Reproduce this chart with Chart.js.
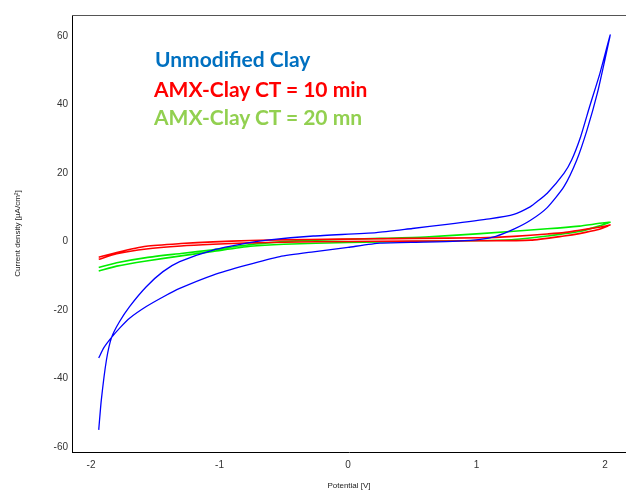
<!DOCTYPE html>
<html>
<head>
<meta charset="utf-8">
<script src="https://cdn.jsdelivr.net/npm/chart.js@4/dist/chart.umd.min.js"></script>
<style>
  html, body { margin: 0; padding: 0; background: #fff; }
  #wrap { position: relative; width: 626px; height: 492px; overflow: hidden; }
  canvas { position: absolute; left: 0; top: 0; }
  .note { position: absolute; font-family: Lato, "Open Sans", sans-serif; font-weight: bold;
          font-size: 21px; line-height: 21px; white-space: nowrap; }
</style>
</head>
<body>
<div id="wrap">
  <canvas id="c" width="626" height="492"></canvas>
  <div class="note" id="n0" style="left:155px; top:48px; color:#0070C0;"></div>
  <div class="note" id="n1" style="left:154px; top:78px; color:#FF0000;"></div>
  <div class="note" id="n2" style="left:154px; top:106px; color:#92D050;"></div>
</div>
<script>
// ---- data ----
const seriesNames = ["Unmodified Clay", "AMX-Clay CT = 10 min", "AMX-Clay CT = 20 mn"];
const xTicks = [-2, -1, 0, 1, 2];
const yTicks = [-60, -40, -20, 0, 20, 40, 60];

// Unmodified clay: lower branch left -> right, then upper branch right -> left
const blueX = [-1.94, -1.90, -1.84, -1.77, -1.70, -1.57, -1.44, -1.31, -1.05, -0.79, -0.53, -0.27, 0.00, 0.25, 0.59, 0.85, 1.03, 1.15, 1.29, 1.42, 1.55, 1.68, 1.78, 1.86, 1.94, 2.01, 2.04,
               1.96, 1.88, 1.81, 1.74, 1.68, 1.55, 1.47, 1.42, 1.29, 1.10, 0.77, 0.50, 0.22, -0.27, -0.63, -0.79, -1.05, -1.31, -1.44, -1.57, -1.70, -1.78, -1.84, -1.88, -1.92, -1.94];
const blueY = [-34.0, -31.0, -28.0, -25.0, -22.4, -19.0, -16.2, -13.7, -9.8, -6.9, -4.4, -3.0, -1.7, -0.5, -0.2, 0.1, 0.6, 1.5, 3.6, 6.2, 9.9, 16.0, 23.8, 32.6, 43.3, 55.0, 60.3,
               49.1, 39.4, 30.6, 23.8, 19.9, 14.1, 11.6, 10.2, 7.9, 6.6, 5.0, 3.8, 2.6, 1.6, 0.4, -0.5, -2.5, -5.9, -8.8, -13.2, -19.0, -23.5, -28.0, -34.6, -46.3, -55.0];

// AMX-Clay CT = 10 min
const redX = [-1.94, -1.80, -1.57, -1.30, -1.05, -0.76, -0.30, 0.20, 0.50, 1.03, 1.29, 1.55, 1.68, 1.80, 1.94, 2.04,
              1.94, 1.80, 1.68, 1.42, 1.03, 0.50, 0.00, -0.50, -0.76, -1.05, -1.30, -1.57, -1.80, -1.94];
const redY = [-4.6, -3.2, -1.4, -0.6, -0.1, 0.3, 0.6, 0.8, 0.9, 1.1, 1.5, 2.2, 2.6, 3.3, 4.1, 4.8,
              3.4, 2.3, 1.6, 0.4, 0.2, 0.1, 0.0, -0.2, -0.4, -0.8, -1.3, -2.2, -3.6, -5.2];

// AMX-Clay CT = 20 mn
const greenX = [-1.94, -1.80, -1.57, -1.30, -1.05, -0.76, -0.53, -0.24, 0.25, 0.60, 1.03, 1.55, 1.80, 2.04,
                1.80, 1.55, 1.29, 1.03, 0.50, 0.00, -0.50, -0.76, -1.05, -1.30, -1.57, -1.80, -1.94];
const greenY = [-7.6, -6.2, -4.7, -3.5, -2.4, -0.9, -0.1, 0.4, 0.9, 1.3, 2.3, 3.7, 4.5, 5.6,
                2.9, 1.6, 0.6, 0.3, 0.0, -0.3, -0.8, -1.4, -2.9, -4.2, -5.7, -7.2, -8.6];

const toPts = (xs, ys) => xs.map((x, i) => ({ x: x, y: ys[i] }));

document.getElementById('n0').textContent = seriesNames[0];
document.getElementById('n1').textContent = seriesNames[1];
document.getElementById('n2').textContent = seriesNames[2];

const topBorder = {
  id: 'topBorder',
  afterDraw(chart) {
    const a = chart.chartArea, ctx = chart.ctx;
    ctx.save();
    ctx.strokeStyle = '#555';
    ctx.lineWidth = 1;
    ctx.beginPath();
    ctx.moveTo(a.left, a.top + 0.5);
    ctx.lineTo(a.right, a.top + 0.5);
    ctx.stroke();
    ctx.restore();
  }
};

new Chart(document.getElementById('c'), {
  type: 'scatter',
  data: {
    datasets: [
      { label: seriesNames[0], data: toPts(blueX, blueY), borderColor: '#0000FF', borderWidth: 1.3,
        showLine: true, pointRadius: 0, tension: 0.2, fill: false },
      { label: seriesNames[1], data: toPts(redX, redY), borderColor: '#FF0000', borderWidth: 1.6,
        showLine: true, pointRadius: 0, tension: 0.2, fill: false },
      { label: seriesNames[2], data: toPts(greenX, greenY), borderColor: '#00EE00', borderWidth: 1.6,
        showLine: true, pointRadius: 0, tension: 0.2, fill: false }
    ]
  },
  options: {
    responsive: false,
    animation: false,
    layout: { padding: { left: 0, right: 0, top: 15, bottom: 0 } },
    plugins: { legend: { display: false }, tooltip: { enabled: false } },
    scales: {
      x: {
        type: 'linear', min: -2.148, max: 2.163,
        afterBuildTicks: s => { s.ticks = xTicks.map(v => ({ value: v })); },
        afterFit: s => { s.height = 40; },
        grid: { display: false, drawTicks: false },
        border: { display: true, color: '#000', width: 1 },
        ticks: { padding: 7, color: '#333', font: { family: 'Liberation Sans, Arial', size: 10 } },
        title: { display: true, text: 'Potential [V]', color: '#222', padding: { top: 0, bottom: 1 },
                 font: { family: 'Liberation Sans, Arial', size: 8 } }
      },
      y: {
        type: 'linear', min: -61.46, max: 66.13,
        afterBuildTicks: s => { s.ticks = yTicks.map(v => ({ value: v })); },
        afterFit: s => { s.width = 72; },
        grid: { display: false, drawTicks: false },
        border: { display: true, color: '#000', width: 1 },
        ticks: { padding: 4, color: '#333', font: { family: 'Liberation Sans, Arial', size: 10 } },
        title: { display: true, text: 'Current density [µA/cm²]', color: '#222', padding: { top: 13, bottom: 0 },
                 font: { family: 'Liberation Sans, Arial', size: 8 } }
      }
    }
  },
  plugins: [topBorder]
});
</script>
</body>
</html>
